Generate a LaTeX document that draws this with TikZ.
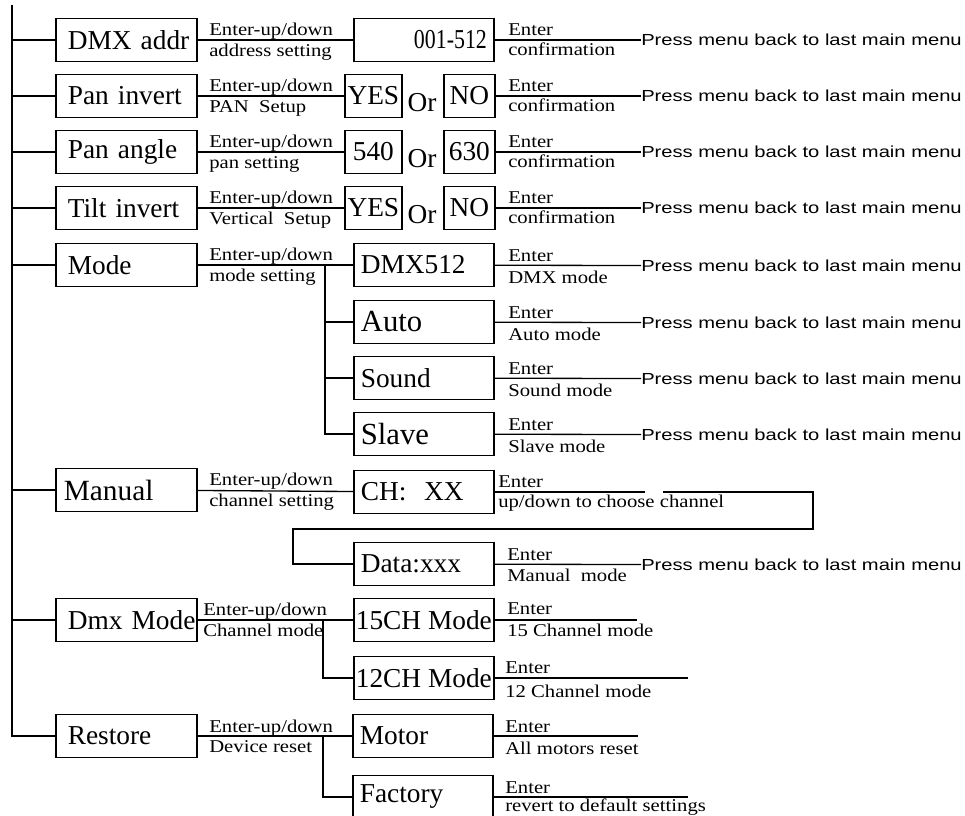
\documentclass[tikz,border=0pt]{standalone}
\usepackage{fontspec}
\setmainfont{Liberation Serif}
\newfontfamily\hintfont[FakeStretch=1.15]{Liberation Serif}
\newfontfamily\narrowfont[FakeStretch=0.8]{Liberation Serif}
\newfontfamily\backfont[FakeStretch=1.26]{Liberation Sans}
\tikzset{
    menubox/.style={draw, line width=1.3pt, anchor=west, minimum height=32.25pt, inner xsep=9pt, text width=87.75pt, align=left, font=\fontsize{20.5}{24}\selectfont},
    subbox/.style={draw, line width=1.3pt, anchor=west, minimum height=32.25pt, inner xsep=5.25pt, text width=94.5pt, align=left, font=\fontsize{20.5}{24}\selectfont},
    pickbox/.style={draw, line width=1.3pt, anchor=west, minimum height=32.25pt, inner sep=0pt, font=\fontsize{20.5}{24}\selectfont},
    bigtext/.style={font=\fontsize{23}{26}\selectfont},
    ortext/.style={anchor=base, inner sep=0pt, font=\fontsize{20.5}{24}\selectfont},
    hint/.style={anchor=base west, inner sep=0pt, font=\hintfont\fontsize{13.5}{15}\selectfont},
    back/.style={anchor=west, inner sep=0pt, font=\backfont\fontsize{12}{14}\selectfont},
    wire/.style={line width=1pt},
}
\begin{document}
\begin{tikzpicture}[x=0.75pt, y=-0.75pt]
    \path[fill=white, use as bounding box] (0,0) rectangle (965,816);

    \node[menubox] (addr) at (55,40) {DMX~addr};
    \node[menubox] (paninv) at (55,96) {Pan~invert};
    \node[menubox] (panang) at (55,152) {Pan~angle};
    \node[menubox] (tiltinv) at (55,208) {Tilt~invert};
    \node[menubox] (mode) at (55,265) {Mode};
    \node[menubox, inner xsep=6pt, text width=93.75pt, font=\fontsize{22}{26}\selectfont] (manual) at (55,490) {Manual};
    \node[menubox] (dmxmode) at (55,620) {Dmx~Mode};
    \node[menubox] (restore) at (55,736) {Restore};

    \coordinate (trunk) at (12,5);
    \draw[line width=1.6pt] (trunk) |- (restore);
    \foreach \n in {addr,paninv,panang,tiltinv,mode,manual,dmxmode}
        \draw[wire] (trunk |- \n) -- (\n);

    \node[subbox, align=right, font=\narrowfont\fontsize{20.5}{24}\selectfont] (addrval) at (353,40) {001-512};
    \node[pickbox, minimum width=42.75pt] (panyes) at (344,96) {YES};
    \node[pickbox, minimum width=38.25pt] (panno) at (443,96) {NO};
    \node[ortext] (panor) at (422,112) {Or};
    \node[pickbox, minimum width=42.75pt] (ang540) at (344,152) {540};
    \node[pickbox, minimum width=38.25pt] (ang630) at (443,152) {630};
    \node[ortext] (angor) at (422,168) {Or};
    \node[pickbox, minimum width=42.75pt] (tiltyes) at (344,208) {YES};
    \node[pickbox, minimum width=38.25pt] (tiltno) at (443,208) {NO};
    \node[ortext] (tiltor) at (422,224) {Or};

    \draw[wire] (addr) -- (addrval);
    \draw[wire] (paninv) -- (panyes);
    \draw[wire] (panang) -- (ang540);
    \draw[wire] (tiltinv) -- (tiltyes);

    \node[hint] (addrup) at (209,36) {Enter-up/down};
    \node[hint] (addrdown) at (209,57) {address setting};
    \node[hint] (panup) at (209,92) {Enter-up/down};
    \node[hint] (pandown) at (209,113) {PAN\ \ Setup};
    \node[hint] (angup) at (209,148) {Enter-up/down};
    \node[hint] (angdown) at (209,169) {pan setting};
    \node[hint] (tiltup) at (209,204) {Enter-up/down};
    \node[hint] (tiltdown) at (209,225) {Vertical\ \ Setup};
    \node[hint] (modeup) at (209,261) {Enter-up/down};
    \node[hint] (modedown) at (209,282) {mode setting};
    \node[hint] (manup) at (209,486) {Enter-up/down};
    \node[hint] (mandown) at (209,507) {channel setting};
    \node[hint] (dmxup) at (203,616) {Enter-up/down};
    \node[hint] (dmxdown) at (203,637) {Channel mode};
    \node[hint] (resup) at (209,732) {Enter-up/down};
    \node[hint] (resdown) at (209,753) {Device reset};

    \node[subbox] (dmx512) at (353,265) {DMX512};
    \node[subbox, bigtext] (automode) at (353,322) {Auto};
    \node[subbox] (soundmode) at (353,378) {Sound};
    \node[subbox, bigtext] (slavemode) at (353,434) {Slave};
    \coordinate (modebus) at (325,265);
    \draw[wire] (mode) -- (dmx512);
    \draw[wire] (modebus) |- (slavemode);
    \draw[wire] (modebus |- automode) -- (automode);
    \draw[wire] (modebus |- soundmode) -- (soundmode);

    \node[subbox] (chxx) at (353,492) {CH:\hspace{0.65em}XX};
    \node[subbox] (data) at (353,564) {Data:xxx};
    \draw[wire] (manual) -- (chxx);
    \coordinate (chcut) at (645,492);
    \coordinate (chgo) at (663,492);
    \coordinate (loopR) at (813,529);
    \coordinate (loopL) at (293,529);
    \draw[wire] (chxx) -- (chcut);
    \draw[wire] (chgo) -| (loopR) -- (loopL) |- (data);

    \node[pickbox, minimum width=105pt] (ch15) at (353,620) {15CH~Mode};
    \node[pickbox, minimum width=105pt] (ch12) at (353,678) {12CH~Mode};
    \coordinate (dmxbus) at (323,620);
    \draw[wire] (dmxmode) -- (ch15);
    \draw[wire] (dmxbus) |- (ch12);

    \node[subbox] (motor) at (352,736) {Motor};
    \node[subbox] (factory) at (352,797) {Factory};
    \coordinate (resbus) at (323,736);
    \draw[wire] (restore) -- (motor);
    \draw[wire] (resbus) |- (factory);

    \node[back] (back1) at (641,40) {Press menu back to last main menu};
    \node[back] (back2) at (641,96) {Press menu back to last main menu};
    \node[back] (back3) at (641,152) {Press menu back to last main menu};
    \node[back] (back4) at (641,208) {Press menu back to last main menu};
    \node[back] (back5) at (641,266) {Press menu back to last main menu};
    \node[back] (back6) at (641,323) {Press menu back to last main menu};
    \node[back] (back7) at (641,379) {Press menu back to last main menu};
    \node[back] (back8) at (641,435) {Press menu back to last main menu};
    \node[back] (back9) at (641,565) {Press menu back to last main menu};
    \draw[wire] (addrval) -- (back1);
    \draw[wire] (panno) -- (back2);
    \draw[wire] (ang630) -- (back3);
    \draw[wire] (tiltno) -- (back4);
    \draw[wire] (dmx512) -- (back5);
    \draw[wire] (automode) -- (back6);
    \draw[wire] (soundmode) -- (back7);
    \draw[wire] (slavemode) -- (back8);
    \draw[wire] (data) -- (back9);

    \coordinate (ch15end) at (637,620);
    \coordinate (ch12end) at (688,678);
    \coordinate (motorend) at (638,736);
    \coordinate (factend) at (688,797);
    \draw[wire] (ch15) -- (ch15end);
    \draw[wire] (ch12) -- (ch12end);
    \draw[wire] (motor) -- (motorend);
    \draw[wire] (factory) -- (factend);

    \node[hint] (ok1) at (508,36) {Enter};
    \node[hint] (conf1) at (508,56) {confirmation};
    \node[hint] (ok2) at (508,92) {Enter};
    \node[hint] (conf2) at (508,112) {confirmation};
    \node[hint] (ok3) at (508,148) {Enter};
    \node[hint] (conf3) at (508,168) {confirmation};
    \node[hint] (ok4) at (508,204) {Enter};
    \node[hint] (conf4) at (508,224) {confirmation};
    \node[hint] (ok5) at (508,262) {Enter};
    \node[hint] (conf5) at (508,284) {DMX mode};
    \node[hint] (ok6) at (508,319) {Enter};
    \node[hint] (conf6) at (508,341) {Auto mode};
    \node[hint] (ok7) at (508,375) {Enter};
    \node[hint] (conf7) at (508,397) {Sound mode};
    \node[hint] (ok8) at (508,431) {Enter};
    \node[hint] (conf8) at (508,453) {Slave mode};
    \node[hint] (chok) at (498,488) {Enter};
    \node[hint] (chpick) at (498,508) {up/down to choose channel};
    \node[hint] (ok9) at (507,561) {Enter};
    \node[hint] (conf9) at (507,582) {Manual\ \ mode};
    \node[hint] (ok15) at (507,615) {Enter};
    \node[hint] (conf15) at (507,637) {15 Channel mode};
    \node[hint] (ok12) at (505,674) {Enter};
    \node[hint] (conf12) at (505,697) {12 Channel mode};
    \node[hint] (okmot) at (505,732) {Enter};
    \node[hint] (confmot) at (505,754) {All motors reset};
    \node[hint] (okfac) at (505,793) {Enter};
    \node[hint] (conffac) at (505,811) {revert to default settings};
\end{tikzpicture}
\end{document}
